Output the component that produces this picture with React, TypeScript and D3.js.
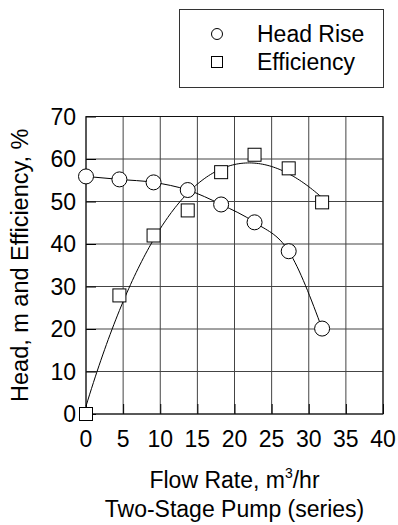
import React, { useEffect, useRef } from 'react';
import * as d3 from 'd3';

// flow rate, m3/hr
const flow = [0, 4.5, 9.1, 13.7, 18.2, 22.7, 27.3, 31.8];
const headRise = [55.9, 55.2, 54.5, 52.7, 49.3, 45.1, 38.3, 20.1];
const efficiency = [0, 27.9, 42, 47.9, 56.9, 61, 57.8, 49.8];

const xTicks = [0, 5, 10, 15, 20, 25, 30, 35, 40];
const yTicks = [0, 10, 20, 30, 40, 50, 60, 70];

const FONT = '"Liberation Sans", Arial, Helvetica, sans-serif';
const FS = 23;

// least squares polynomial fit, returns coefficients c0..cn
function polyfit(xs: number[], ys: number[], deg: number) {
  const n = deg + 1;
  const A: number[][] = [];
  for (let i = 0; i < n; i++) {
    A.push([]);
    for (let j = 0; j < n; j++) A[i].push(d3.sum(xs, x => Math.pow(x, i + j)));
    A[i].push(d3.sum(xs, (x, k) => Math.pow(x, i) * ys[k]));
  }
  for (let c = 0; c < n; c++) {
    let p = c;
    for (let r = c + 1; r < n; r++) if (Math.abs(A[r][c]) > Math.abs(A[p][c])) p = r;
    [A[c], A[p]] = [A[p], A[c]];
    for (let r = 0; r < n; r++) {
      if (r === c) continue;
      const f = A[r][c] / A[c][c];
      for (let k = c; k <= n; k++) A[r][k] -= f * A[c][k];
    }
  }
  return A.map((row, i) => row[n] / A[i][i]);
}

const Chart = () => {
  const svgRef = useRef<SVGSVGElement>(null);

  useEffect(() => {
    const margin = { top: 116.5, right: 15, bottom: 111, left: 86 };
    const W = 398;
    const H = 525;
    const width = W - margin.left - margin.right;
    const height = H - margin.top - margin.bottom;

    const root = d3.select(svgRef.current);
    root.selectAll('*').remove();
    root.attr('width', W).attr('height', H);

    const svg = root.append('g').attr('transform', `translate(${margin.left},${margin.top})`);

    const x = d3.scaleLinear().domain([0, 40]).range([0, width]);
    const y = d3.scaleLinear().domain([0, 70]).range([height, 0]);

    // grid
    svg.append('g')
      .selectAll('line')
      .data(xTicks)
      .enter()
      .append('line')
      .attr('x1', d => x(d)).attr('x2', d => x(d))
      .attr('y1', 0).attr('y2', height)
      .attr('stroke', '#444').attr('stroke-width', 1);
    svg.append('g')
      .selectAll('line')
      .data(yTicks)
      .enter()
      .append('line')
      .attr('y1', d => y(d)).attr('y2', d => y(d))
      .attr('x1', 0).attr('x2', width)
      .attr('stroke', '#444').attr('stroke-width', 1);

    // inward ticks
    const xAxis = svg.append('g')
      .attr('transform', `translate(0,${height})`)
      .call(d3.axisBottom(x).tickValues(xTicks).tickSize(-10).tickFormat(() => ''));
    const yAxis = svg.append('g')
      .call(d3.axisLeft(y).tickValues(yTicks).tickSize(-10).tickFormat(() => ''));
    [xAxis, yAxis].forEach(a => {
      a.select('.domain').remove();
      a.selectAll('line').attr('stroke', '#000');
    });

    svg.append('rect')
      .attr('width', width).attr('height', height)
      .attr('fill', 'none').attr('stroke', '#111').attr('stroke-width', 1);

    // tick labels
    svg.append('g')
      .selectAll('text')
      .data(xTicks)
      .enter()
      .append('text')
      .attr('x', d => x(d))
      .attr('y', height + 33)
      .attr('text-anchor', 'middle')
      .attr('font-family', FONT).attr('font-size', FS)
      .text(d => d);
    svg.append('g')
      .selectAll('text')
      .data(yTicks)
      .enter()
      .append('text')
      .attr('x', -10)
      .attr('y', d => y(d))
      .attr('dy', '0.36em')
      .attr('text-anchor', 'end')
      .attr('font-family', FONT).attr('font-size', FS)
      .text(d => d);

    // curves
    const head = flow.map((f, i) => [f, headRise[i]] as [number, number]);
    svg.append('path')
      .datum(head)
      .attr('fill', 'none').attr('stroke', '#000').attr('stroke-width', 1)
      .attr('d', d3.line<[number, number]>().x(d => x(d[0])).y(d => y(d[1])).curve(d3.curveMonotoneX));

    const coef = polyfit(flow, efficiency, 3);
    const fx = d3.range(0, flow[flow.length - 1] + 0.01, 0.25);
    const fit = fx.map(v => [v, coef.reduce((s, c, i) => s + c * Math.pow(v, i), 0)] as [number, number]);
    svg.append('path')
      .datum(fit)
      .attr('fill', 'none').attr('stroke', '#000').attr('stroke-width', 1)
      .attr('d', d3.line<[number, number]>().x(d => x(d[0])).y(d => y(d[1])));

    // markers
    svg.append('g')
      .selectAll('circle')
      .data(head)
      .enter()
      .append('circle')
      .attr('cx', d => x(d[0])).attr('cy', d => y(d[1]))
      .attr('r', 7.5)
      .attr('fill', '#fff').attr('stroke', '#000').attr('stroke-width', 1);
    const s = 13;
    svg.append('g')
      .selectAll('rect')
      .data(flow.map((f, i) => [f, efficiency[i]]))
      .enter()
      .append('rect')
      .attr('x', d => x(d[0]) - s / 2).attr('y', d => y(d[1]) - s / 2)
      .attr('width', s).attr('height', s)
      .attr('fill', '#fff').attr('stroke', '#000').attr('stroke-width', 1);

    // axis titles
    root.append('text')
      .attr('transform', `translate(28,${margin.top + height / 2}) rotate(-90)`)
      .attr('text-anchor', 'middle')
      .attr('font-family', FONT).attr('font-size', 23.5)
      .text('Head, m and Efficiency, %');

    const xt = root.append('text')
      .attr('x', margin.left + width / 2)
      .attr('y', 488)
      .attr('text-anchor', 'middle')
      .attr('font-family', FONT).attr('font-size', FS);
    xt.append('tspan').text('Flow Rate, m');
    xt.append('tspan').attr('dy', -10).attr('font-size', 14).text('3');
    xt.append('tspan').attr('dy', 10).text('/hr');

    root.append('text')
      .attr('x', margin.left + width / 2)
      .attr('y', 517)
      .attr('text-anchor', 'middle')
      .attr('font-family', FONT).attr('font-size', FS)
      .text('Two-Stage Pump (series)');

    // legend
    const legend = root.append('g');
    legend.append('rect')
      .attr('x', 179.5).attr('y', 9.5).attr('width', 204).attr('height', 78)
      .attr('fill', '#fff').attr('stroke', '#333').attr('stroke-width', 1);
    legend.append('circle')
      .attr('cx', 217).attr('cy', 34).attr('r', 5.5)
      .attr('fill', '#fff').attr('stroke', '#000');
    legend.append('rect')
      .attr('x', 211.5).attr('y', 56.5).attr('width', 11).attr('height', 11)
      .attr('fill', '#fff').attr('stroke', '#000');
    legend.selectAll('text.lg')
      .data(['Head Rise', 'Efficiency'])
      .enter()
      .append('text')
      .attr('x', 257)
      .attr('y', (d, i) => 42 + i * 28)
      .attr('font-family', FONT).attr('font-size', FS)
      .text(d => d);
  }, []);

  return <svg ref={svgRef} style={{ position: 'absolute', left: 0, top: 0 }}></svg>;
};

export default function App() {
  return <Chart />;
}
